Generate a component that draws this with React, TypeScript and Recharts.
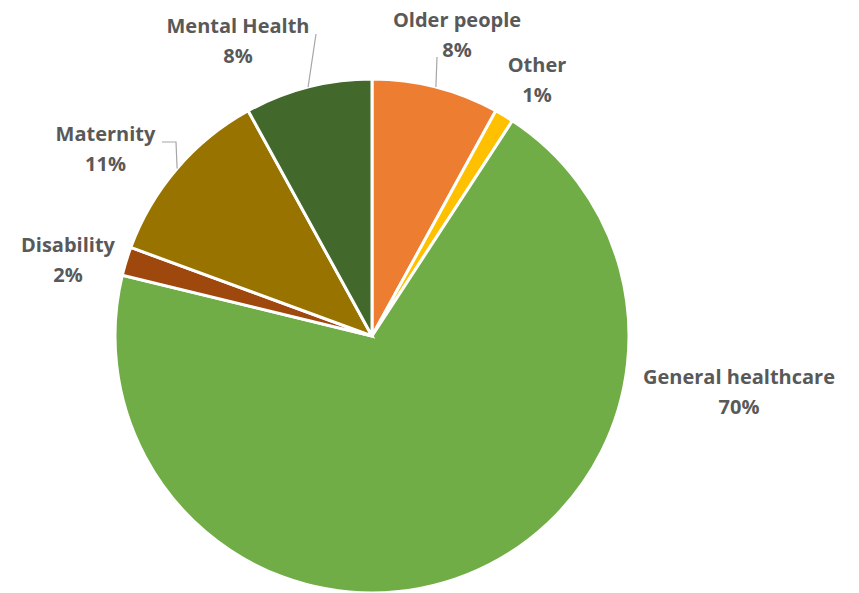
import React from "react";
import { PieChart, Pie, Cell } from "recharts";

const categories = ["Older people", "Other", "General healthcare", "Disability", "Maternity", "Mental Health"];
const shares = [8.0, 1.2, 69.6, 1.8, 11.4, 8.0];
const colors = ["#ED7D31", "#FFC000", "#70AD47", "#9E480E", "#997300", "#43682B"];

// label block centre offsets from the pie centre, and optional leader-line points
const labelLayout = [
  { dx: 85, dy: -302, line: [[65, -279]] },
  { dx: 165, dy: -257, line: null },
  { dx: 367, dy: 55, line: null },
  { dx: -304, dy: -76.5, line: null },
  { dx: -266.5, dy: -187.5, line: [[-196, -194], [-210, -194]] },
  { dx: -134, dy: -296, line: [[-56, -302]] },
];

const data = categories.map((name, i) => ({ name, value: shares[i] }));
const RAD = Math.PI / 180;
const FONT = "'Open Sans', sans-serif";

const renderLabel = (props: any) => {
  const { cx, cy, midAngle, outerRadius, index, percent } = props;
  const lay = labelLayout[index];
  const x = cx + lay.dx;
  const y = cy + lay.dy;
  let path: string | null = null;
  if (lay.line) {
    const ex = cx + outerRadius * Math.cos(-midAngle * RAD);
    const ey = cy + outerRadius * Math.sin(-midAngle * RAD);
    path = `M${ex},${ey}` + lay.line.map((p) => ` L${cx + p[0]},${cy + p[1]}`).join("");
  }
  return (
    <g key={`lab-${index}`}>
      {path && <path d={path} stroke="#A6A6A6" strokeWidth={1.2} fill="none" />}
      <text x={x} y={y} textAnchor="middle" fill="#595959" fontFamily={FONT} fontWeight={700} fontSize={20}>
        <tspan x={x} y={y - 7.5}>{categories[index]}</tspan>
        <tspan x={x} y={y + 22.5}>{Math.round(percent * 100)}%</tspan>
      </text>
    </g>
  );
};

export default function App() {
  return (
    <div style={{ position: "absolute", left: 0, top: 0, width: 859, height: 593, background: "#fff" }}>
      <PieChart width={859} height={593} margin={{ top: 0, right: 0, bottom: 0, left: 0 }}>
        <Pie
          data={data}
          dataKey="value"
          nameKey="name"
          cx={372}
          cy={336}
          outerRadius={257}
          startAngle={90}
          endAngle={-270}
          stroke="#FFFFFF"
          strokeWidth={3}
          label={renderLabel}
          labelLine={false}
          isAnimationActive={false}
        >
          {data.map((d, i) => (
            <Cell key={d.name} fill={colors[i]} />
          ))}
        </Pie>
      </PieChart>
    </div>
  );
}
